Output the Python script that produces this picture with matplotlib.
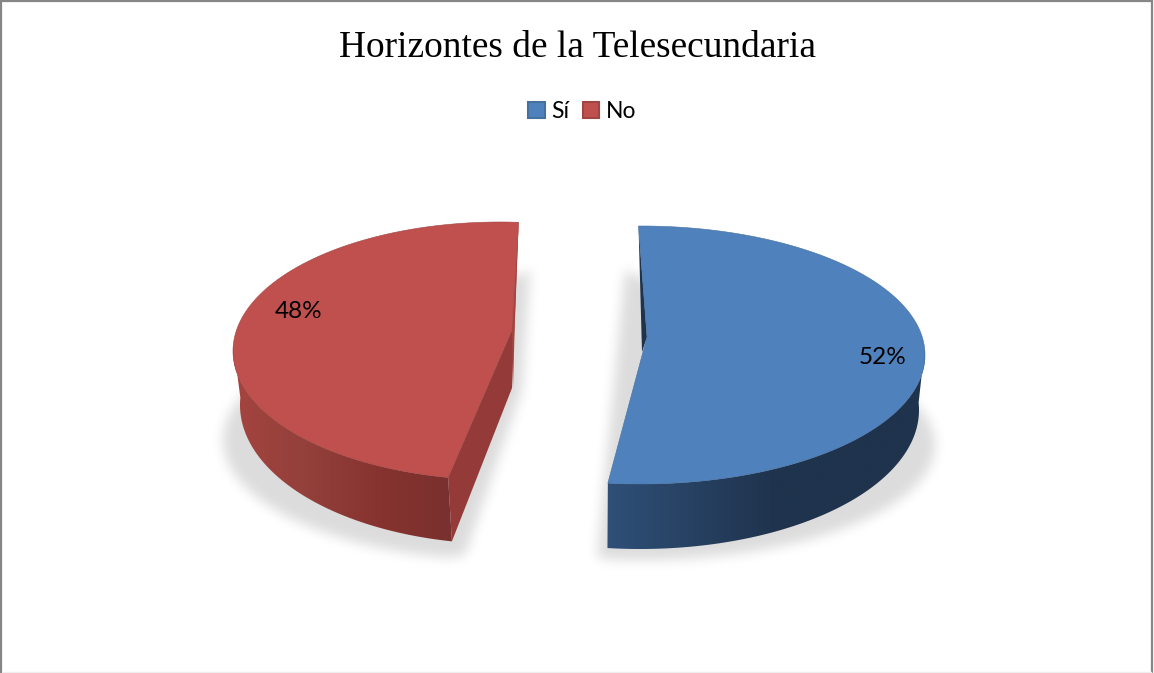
#!/usr/bin/env python3
# -*- coding: utf-8 -*-
"""
3D looking exploded pie, Horizontes de la Telesecundaria
"""

import numpy as np
import matplotlib
matplotlib.use("Agg")
import matplotlib.pyplot as plt
from matplotlib.patches import Polygon, Patch, Rectangle
from matplotlib.path import Path
from matplotlib.colors import LinearSegmentedColormap

title = "Horizontes de la Telesecundaria"
categories = ["Sí", "No"]
shares = [52, 48]

top_colors = ["#4f81bd", "#c0504d"]
edge_colors = ["#46719f", "#a04543"]
wall_colors = [["#2f5078", "#1f334d", "#1f334d"],
               ["#a5443f", "#93403b", "#86332f", "#78302e"]]
inner_colors = ["#1f334d", "#943b39"]

# pixel layout of each slice: top ellipse, bottom ellipse, angle where it starts
top_ell = [(641, 355, 284, 129), (500, 351, 267, 129)]
bot_ell = [(640, 410, 279, 139), (503, 405, 263, 139)]
shadow_ell = [(641, 445, 294, 115), (503, 440, 280, 120)]
shadow_inner = [[(597, 557), (625, 270)], [(530, 270), (522, 390), (465, 555)]]
start_ang = [90.5, 86.0]
direction = [-1, 1]
wall_from = [3, 177]
apex = [(647, 337), (512, 330)]
apex_low = [(642, 352), (512, 388)]
label_pos = [(883, 358), (299, 311)]


def arc(ell, a0, a1, n=200):
    t = np.radians(np.linspace(a0, a1, n))
    return np.column_stack((ell[0]+ell[2]*np.cos(t), ell[1]-ell[3]*np.sin(t)))


def blur(img, sigma):
    r = int(3*sigma)
    k = np.exp(-0.5*(np.arange(-r, r+1)/sigma)**2)
    k = k/k.sum()
    img = np.apply_along_axis(lambda v: np.convolve(v, k, mode="same"), 0, img)
    img = np.apply_along_axis(lambda v: np.convolve(v, k, mode="same"), 1, img)
    return img


fig = plt.figure(figsize=(11.54, 6.73), dpi=100)
ax = fig.add_axes([0, 0, 1, 1])
ax.set_xlim(0, 1154)
ax.set_ylim(673, 0)
ax.axis("off")

ax.add_patch(Rectangle((1, 1), 1151, 700, fc="white", ec="#868686", lw=1.6, zorder=0))
ax.plot([3, 1151], [672, 672], color="#eeeeee", lw=1, zorder=0)

gx, gy = np.meshgrid(np.arange(1154)+0.5, np.arange(673)+0.5)
grid_pts = np.column_stack((gx.ravel(), gy.ravel()))

for i in range(2):
    sweep = shares[i]/sum(shares)*360
    a0 = start_ang[i]
    a1 = a0 + direction[i]*sweep
    top = arc(top_ell[i], a0, a1)
    bot = arc(bot_ell[i], a0, a1)

    # soft shadow under the slice
    if i == 0:
        sh = np.vstack((arc(shadow_ell[i], 60, a1), shadow_inner[i]))
    else:
        sh = np.vstack((arc(shadow_ell[i], 120, a1), shadow_inner[i][::-1]))
    mask = Path(sh).contains_points(grid_pts).reshape(gx.shape).astype(float)
    mask = blur(mask, 6)
    rgba = np.zeros(mask.shape+(4,))
    rgba[..., 3] = mask*0.14
    ax.imshow(rgba, extent=(0, 1154, 673, 0), aspect="auto", interpolation="bilinear", zorder=1)

    # outer wall with a horizontal gradient, only the part facing the viewer
    wall = np.vstack((arc(top_ell[i], wall_from[i], a1), arc(bot_ell[i], wall_from[i], a1)[::-1]))
    cmap = LinearSegmentedColormap.from_list("w", wall_colors[i])
    grad = np.linspace(0, 1, 256).reshape(1, -1)
    if i == 0:
        x0, x1 = bot[:, 0].min()-2, bot[:, 0].min()+340
    else:
        x0, x1 = top[:, 0].min()-2, bot[-1, 0]+6
    im = ax.imshow(grad, extent=(x0, x1, 600, 200), cmap=cmap, aspect="auto", zorder=2)
    clip = Polygon(wall, transform=ax.transData, fc="none", ec="none")
    ax.add_patch(clip)
    im.set_clip_path(clip)

    # inner cut faces
    ax.add_patch(Polygon([top[0], apex_low[i], apex[i]], fc=inner_colors[i], ec="none", zorder=3))
    if i == 1:
        ax.add_patch(Polygon([apex[i], apex_low[i], bot[-1], top[-1]], fc=inner_colors[i],
                             ec="none", zorder=3))
        ax.add_patch(Polygon([top[0], (top[0][0]-4, 330), (apex_low[i][0]+1, apex_low[i][1]), apex[i]],
                             fc="#a5443f", ec="none", zorder=3))

    # top face
    face = np.vstack((top, [apex[i]]))
    ax.add_patch(Polygon(face, fc=top_colors[i], ec=edge_colors[i], lw=0.4, zorder=4))

    ax.text(label_pos[i][0], label_pos[i][1], "{}%".format(shares[i]), family="Lato",
            fontsize=17.5, color="black", ha="center", va="center", zorder=5)

ax.set_xlim(0, 1154)
ax.set_ylim(673, 0)

ax.text(577.5, 48, title, family="Liberation Serif", fontsize=26.9, color="black",
        ha="center", va="center")

handles = [Patch(fc=top_colors[i], ec=edge_colors[i], lw=1.5, label=categories[i]) for i in range(2)]
ax.legend(handles=handles, ncol=2, loc="center", bbox_to_anchor=(582.5, 111.5),
          bbox_transform=ax.transData, frameon=False, prop={"family": "Lato", "size": 16.5},
          handlelength=0.7, handleheight=0.7, handletextpad=0.3, columnspacing=0.6,
          borderpad=0, borderaxespad=0)

fig.savefig("out.png", dpi=100)
